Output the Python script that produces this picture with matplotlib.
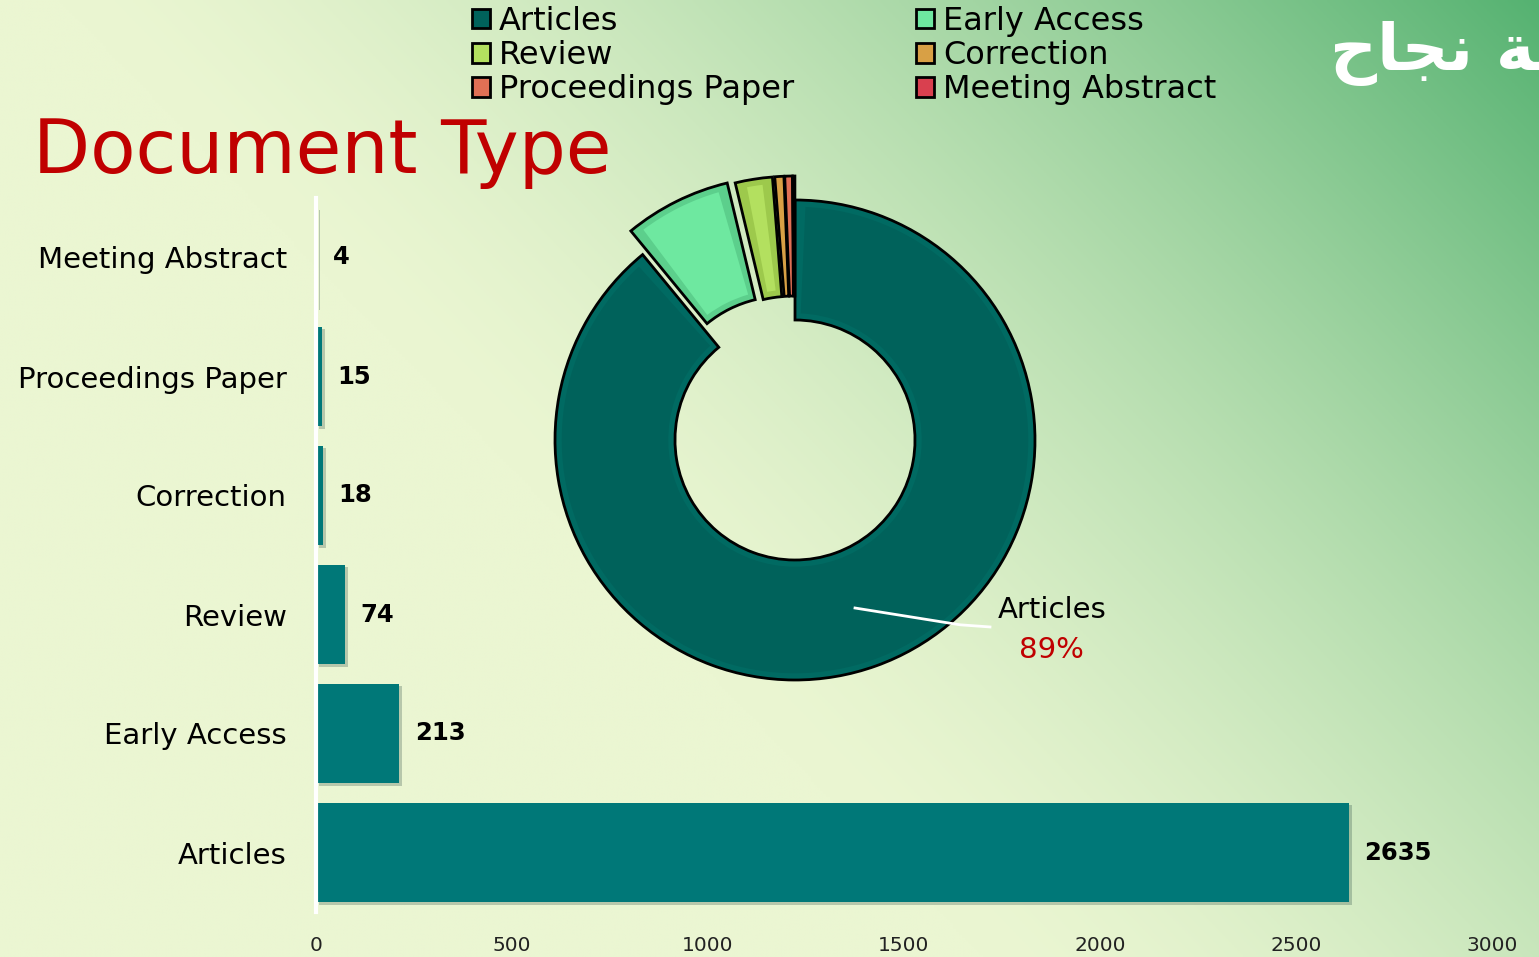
import numpy as np
import matplotlib
matplotlib.use('Agg')
import matplotlib.pyplot as plt
from matplotlib.patches import Patch, Wedge
from matplotlib.colors import to_rgb
import matplotlib.patheffects as pe

# ---------------- data ----------------
categories = ['Articles', 'Early Access', 'Review', 'Correction',
              'Proceedings Paper', 'Meeting Abstract']
counts = [2635, 213, 74, 18, 15, 4]
x_ticks = [0, 500, 1000, 1500, 2000, 2500, 3000]
pie_colors = ['#00625b', '#6ee8a0', '#b3e05f', '#d8a045', '#e07055', '#d9404f']
pie_borders = ['#006a62', '#5ccf8c', '#9dc94c', '#d8a045', '#e07055', '#d9404f']
explode = [0, 0.11, 0.1, 0.1, 0.1, 0.1]
title = 'Document Type'
banner = '\uFEA1\uFE8E\uFEA0\uFEE7 \uFE94\uFEBB\uFED7'  # "قصة نجاح" (visual order)

plt.rcParams['font.family'] = ['DejaVu Sans']

W, H = 1539, 957
fig = plt.figure(figsize=(W / 100, H / 100), dpi=100)

# ---------------- background gradient ----------------
bg = fig.add_axes([0, 0, 1, 1], zorder=-10)
xs = np.linspace(0, 1, 500)
ys = np.linspace(0, 1, 320)
X, Y = np.meshgrid(xs, ys)
s = (X + (1 - Y) * 0.6) / 1.6
f = np.clip((s - 0.4) / 0.6, 0, 1) ** 1.5
light = np.array(to_rgb('#ebf6d2'))
green = np.array(to_rgb('#55b271'))
img = light + (green - light) * f[..., None]
bg.imshow(img, aspect='auto', extent=[0, 1, 0, 1], origin='upper')
bg.axis('off')

# ---------------- bar chart ----------------
axb = fig.add_axes([316 / W, 1 - 912 / H, (1492 - 316) / W, 714 / H])
axb.set_facecolor('none')
ypos = np.arange(len(categories))
bars = axb.barh(ypos, counts, height=0.84, color='#007878',
                path_effects=[pe.withSimplePatchShadow(offset=(2, -2), alpha=0.22)])
axb.set_ylim(-0.5, len(categories) - 0.5)
axb.set_xlim(0, 3000)
axb.set_yticks(ypos, categories)
axb.set_xticks(x_ticks, [str(t) for t in x_ticks])
axb.tick_params(length=0)
axb.tick_params(axis='y', pad=21, labelsize=21)
axb.tick_params(axis='x', pad=17, labelsize=14.5, labelcolor='#222222')
for sp in ['top', 'right', 'bottom']:
    axb.spines[sp].set_visible(False)
axb.spines['left'].set_color('white')
axb.spines['left'].set_linewidth(3)
for b, v in zip(bars, counts):
    axb.annotate(str(v), (v, b.get_y() + b.get_height() / 2), xytext=(11, 0),
                 textcoords='offset points', va='center', ha='left',
                 fontweight='bold', fontsize=17.5, color='black')

# ---------------- donut ----------------
R = 240
axd = fig.add_axes([(795 - 1.3 * R) / W, (H - 440 - 1.3 * R) / H,
                    2.6 * R / W, 2.6 * R / H])
wedges, _ = axd.pie(counts, colors=pie_borders, explode=explode, startangle=90,
                    counterclock=False, radius=1,
                    wedgeprops=dict(width=0.5, linewidth=2, edgecolor='black'))
d = 0.028  # bevel inset
for w, fc in zip(wedges, pie_colors):
    rmid = w.r - w.width / 2
    dang = np.degrees(d / rmid)
    if (w.theta2 - w.theta1) > 3 * dang:
        inner = Wedge(w.center, w.r - d, w.theta1 + dang * 1.2, w.theta2 - dang * 1.2,
                      width=w.width - 2 * d, facecolor=fc, edgecolor='none', zorder=w.zorder + 0.1)
        axd.add_patch(inner)
axd.set_xlim(-1.3, 1.3)
axd.set_ylim(-1.3, 1.3)
axd.set_aspect('equal')
axd.axis('off')

share = round(100 * counts[0] / sum(counts))
axd.plot([0.25, 0.6875, 0.8125], [-0.70, -0.77, -0.779], color='white', lw=2)
axd.text(1.07, -0.708, categories[0], ha='center', va='center', fontsize=21, color='black')
axd.text(1.07, -0.875, f'{share}%', ha='center', va='center', fontsize=21, color='#c00000')

# ---------------- legend ----------------
handles = [Patch(facecolor=c, edgecolor='black', linewidth=2) for c in pie_colors]
col1 = [0, 2, 4]
col2 = [1, 3, 5]
for cols, x0 in [(col1, 472), (col2, 916)]:
    fig.legend(handles=[handles[i] for i in cols], labels=[categories[i] for i in cols],
               loc='upper left', bbox_to_anchor=(x0 / W, 1 - 6 / H), frameon=False,
               borderpad=0, borderaxespad=0, handlelength=0.55, handleheight=0.55,
               handletextpad=0.3, labelspacing=0.1, fontsize=23)

# ---------------- titles ----------------
fig.text(33 / W, 1 - 173 / H, title, color='#c00000', fontsize=53.5, ha='left', va='baseline')
fig.text(1330 / W, 1 - 70 / H, banner, color='white', fontsize=47, fontweight='bold',
         ha='left', va='baseline')

fig.savefig('out.png', dpi=100)
